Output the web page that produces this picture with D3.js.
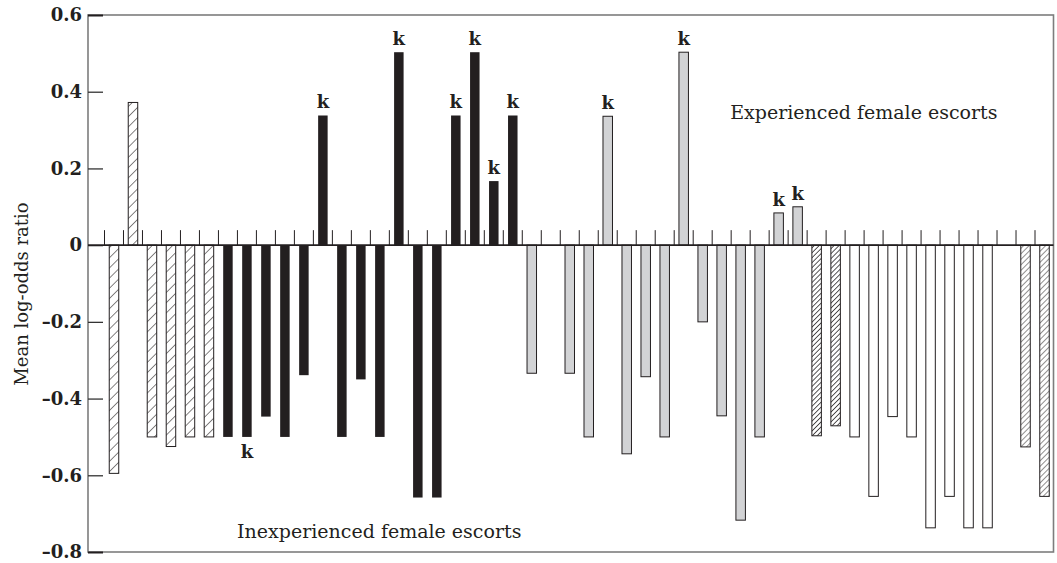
<!DOCTYPE html>
<html>
<head>
<meta charset="utf-8">
<script src="https://cdn.jsdelivr.net/npm/d3@7"></script>
<style>
  html, body { margin: 0; padding: 0; background: #fff; }
  svg { display: block; }
</style>
</head>
<body>
<svg id="chart" width="1057" height="563"></svg>
<script>
// ---------- data ----------
const categories = [1,2,3,4,5,6,7,8,9,10,11,12,13,14,15,16,17,18,19,20,21,22,23,24,25,
                    26,27,28,29,30,31,32,33,34,35,36,37,38,39,40,41,42,43,44,45,46,47,48,49,50];
const values = [-0.595, 0.372, -0.50, -0.525, -0.50, -0.50,
                -0.50, -0.50, -0.447, -0.50, -0.339, 0.338, -0.50, -0.35, -0.50, 0.503,
                -0.658, -0.658, 0.338, 0.503, 0.167, 0.338,
                -0.334, null, -0.334, -0.50, 0.336, -0.544, -0.343, -0.50, 0.503, -0.20,
                -0.445, -0.717, -0.50, 0.084, 0.10,
                -0.497, -0.471,
                -0.50, -0.655, -0.447, -0.50, -0.737, -0.655, -0.737, -0.737,
                null, -0.526, -0.655];
const barStyles = ["hatch","hatch","hatch","hatch","hatch","hatch",
                   "black","black","black","black","black","black","black","black","black","black",
                   "black","black","black","black","black","black",
                   "gray",null,"gray","gray","gray","gray","gray","gray","gray","gray",
                   "gray","gray","gray","gray","gray",
                   "denseHatch","denseHatch",
                   "white","white","white","white","white","white","white","white",
                   null,"hatch2","hatch2"];
// 'k' significance markers: category and placement
const kMarks = [
  {cat: 8, pos: "below"}, {cat: 12, pos: "above"}, {cat: 16, pos: "above"},
  {cat: 19, pos: "above"}, {cat: 20, pos: "above"}, {cat: 21, pos: "above"},
  {cat: 22, pos: "above"}, {cat: 27, pos: "above"}, {cat: 31, pos: "above"},
  {cat: 36, pos: "above"}, {cat: 37, pos: "above"}
];
const yTicks = [-0.8, -0.6, -0.4, -0.2, 0, 0.2, 0.4, 0.6];
const yTitle = "Mean log-odds ratio";
const annotations = [
  {text: "Experienced female escorts", cat: 33.95, value: 0.33},
  {text: "Inexperienced female escorts", cat: 7.98, value: -0.764}
];

// ---------- layout ----------
const svg = d3.select("#chart");
const L = 88, R = 1053.5, T = 15, B = 552;
const ink = "#231f20";
const serif = "'DejaVu Serif', 'Liberation Serif', serif";

const y = d3.scaleLinear().domain([-0.8, 0.6]).range([B, T]);
const slot = d3.scaleBand().domain(categories).range([104.5, 1054]).padding(0);
const step = slot.step();
const barW = step * 0.5;
const bx = c => slot(c) + step * 0.25;

// patterns
const defs = svg.append("defs");
function hatch(id, spacing, sw) {
  const p = defs.append("pattern").attr("id", id)
    .attr("patternUnits", "userSpaceOnUse")
    .attr("width", spacing).attr("height", spacing)
    .attr("patternTransform", "rotate(45)");
  p.append("rect").attr("width", spacing).attr("height", spacing).attr("fill", "#fff");
  p.append("line").attr("x1", 0).attr("y1", 0).attr("x2", 0).attr("y2", spacing)
    .attr("stroke", ink).attr("stroke-width", sw);
}
hatch("hatch", 7.2, 1.1);
hatch("hatch2", 3.9, 1.0);
hatch("denseHatch", 3.5, 1.5);

const fills = {
  hatch: "url(#hatch)", hatch2: "url(#hatch2)", denseHatch: "url(#denseHatch)",
  black: ink, gray: "#d2d3d5", white: "#ffffff"
};

// frame
const frame = svg.append("g").attr("stroke", "#7d7d7d").attr("stroke-width", 1.6).attr("fill", "none");
frame.append("rect").attr("x", L).attr("y", T).attr("width", R - L).attr("height", B - T);

// y axis with inward ticks
const fmt = d => d === 0 ? "0" : (d < 0 ? "\u2013" : "") + Math.abs(d).toFixed(1);
const yAxis = svg.append("g").attr("transform", `translate(${L},0)`)
  .call(d3.axisLeft(y).tickValues(yTicks).tickSize(-15).tickPadding(6).tickFormat(fmt));
yAxis.select(".domain").remove();
yAxis.attr("font-family", serif).attr("font-size", 18);
yAxis.selectAll(".tick line").attr("stroke", "#333").attr("stroke-width", 1.3);
yAxis.selectAll(".tick line").filter(d => d === 0.6 || d === -0.8).attr("stroke", ink).attr("stroke-width", 2);
yAxis.selectAll(".tick text")
  .attr("font-weight", "bold").attr("fill", ink);

// y title
svg.append("text")
  .attr("transform", `translate(28, 294) rotate(-90)`)
  .attr("text-anchor", "middle").attr("font-family", serif).attr("font-size", 18)
  .attr("fill", ink)
  .text(yTitle);

// bars
const data = categories.map((c, i) => ({cat: c, v: values[i], s: barStyles[i]})).filter(d => d.v !== null);
svg.append("g").selectAll("rect").data(data).join("rect")
  .attr("x", d => bx(d.cat))
  .attr("y", d => y(Math.max(0, d.v)))
  .attr("width", barW)
  .attr("height", d => Math.abs(y(d.v) - y(0)))
  .attr("fill", d => fills[d.s])
  .attr("stroke", d => d.s === "black" ? "none" : ink)
  .attr("stroke-width", 1);

// zero line and slot ticks
svg.append("line").attr("x1", L).attr("x2", R).attr("y1", y(0)).attr("y2", y(0))
  .attr("stroke", ink).attr("stroke-width", 1.6);
svg.append("g").selectAll("line").data(categories).join("line")
  .attr("x1", d => slot(d)).attr("x2", d => slot(d))
  .attr("y1", y(0) - 15).attr("y2", y(0))
  .attr("stroke", ink).attr("stroke-width", 1);

// k markers
const valOf = c => values[categories.indexOf(c)];
svg.append("g").selectAll("text").data(kMarks).join("text")
  .attr("x", d => bx(d.cat) + barW / 2)
  .attr("y", d => d.pos === "above" ? y(valOf(d.cat)) - 7 : y(valOf(d.cat)) + 21)
  .attr("text-anchor", "middle").attr("font-family", serif)
  .attr("font-weight", "bold").attr("font-size", 18).attr("fill", ink)
  .text("k");

// group annotations
svg.append("g").selectAll("text").data(annotations).join("text")
  .attr("x", d => slot(Math.floor(d.cat)) + (d.cat % 1) * step)
  .attr("y", d => y(d.value))
  .attr("font-family", serif).attr("font-size", 19).attr("fill", ink)
  .text(d => d.text);
</script>
</body>
</html>
